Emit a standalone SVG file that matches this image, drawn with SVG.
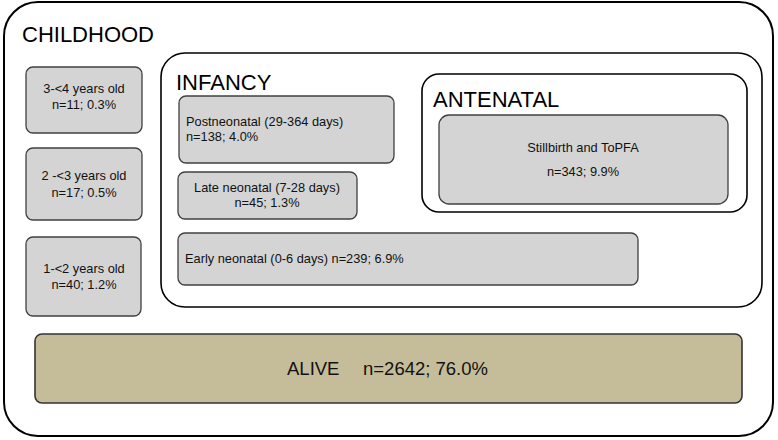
<svg xmlns="http://www.w3.org/2000/svg" width="778" height="440" viewBox="0 0 778 440">
<style>
.frame{fill:#fff;stroke:#000;stroke-width:2}
.box{fill:#d4d4d4;stroke:#404040;stroke-width:1.3}
.alive{fill:#c5bd99;stroke:#333;stroke-width:1.6}
.title{font-family:"Liberation Sans",Arial,sans-serif;font-size:22px;fill:#000}
.t{font-family:"Liberation Sans",Arial,sans-serif;font-size:12.8px;fill:#111}
.c{text-anchor:middle}
.big{font-family:"Liberation Sans",Arial,sans-serif;font-size:18.5px;fill:#111}
</style>
<g id="childhood">
<rect class="frame" x="4" y="2" width="769" height="434" rx="34"/>
<text class="title" x="22" y="42">CHILDHOOD</text>
</g>
<g id="age3">
<rect class="box" x="26" y="67" width="116" height="66" rx="7"/>
<text class="t c" x="84" y="93">3-&lt;4 years old</text>
<text class="t c" x="84" y="109">n=11; 0.3%</text>
</g>
<g id="age2">
<rect class="box" x="26" y="148" width="116" height="72" rx="7"/>
<text class="t c" x="84" y="180">2 -&lt;3 years old</text>
<text class="t c" x="84" y="197">n=17; 0.5%</text>
</g>
<g id="age1">
<rect class="box" x="26" y="237" width="115" height="79" rx="7"/>
<text class="t c" x="84" y="273">1-&lt;2 years old</text>
<text class="t c" x="84" y="289">n=40; 1.2%</text>
</g>
<g id="infancy">
<rect class="frame" x="161" y="53" width="601" height="254" rx="24" style="stroke-width:1.6"/>
<text class="title" x="176" y="90">INFANCY</text>
</g>
<g id="postneonatal">
<rect class="box" x="179" y="96" width="215" height="67" rx="7"/>
<text class="t" x="186" y="126">Postneonatal (29-364 days)</text>
<text class="t" x="186" y="141">n=138; 4.0%</text>
</g>
<g id="lateneonatal">
<rect class="box" x="178" y="172" width="179" height="47" rx="7"/>
<text class="t c" x="267" y="192">Late neonatal (7-28 days)</text>
<text class="t c" x="267" y="207">n=45; 1.3%</text>
</g>
<g id="earlyneonatal">
<rect class="box" x="178" y="233" width="460" height="52" rx="7"/>
<text class="t" x="185" y="263">Early neonatal (0-6 days) n=239; 6.9%</text>
</g>
<g id="antenatal">
<rect class="frame" x="422" y="74" width="325" height="138" rx="17" style="stroke-width:1.6"/>
<text class="title" x="433" y="107">ANTENATAL</text>
</g>
<g id="stillbirth">
<rect class="box" x="439" y="115" width="289" height="89" rx="10"/>
<text class="t c" x="583" y="152">Stillbirth and ToPFA</text>
<text class="t c" x="583" y="176">n=343; 9.9%</text>
</g>
<g id="alive">
<rect class="alive" x="35" y="334" width="707" height="69" rx="7"/>
<text class="big" x="287" y="375">ALIVE</text>
<text class="big" x="363" y="375">n=2642; 76.0%</text>
</g>
<g id="connectors"/>
</svg>
